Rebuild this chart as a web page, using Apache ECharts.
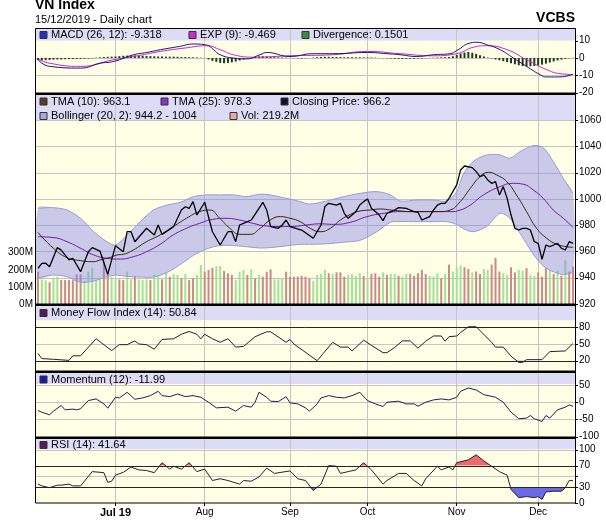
<!DOCTYPE html>
<html><head><meta charset="utf-8">
<script src="https://cdn.jsdelivr.net/npm/echarts@6/dist/echarts.min.js"></script>
<style>html,body{margin:0;padding:0;background:#fff}#c{width:606px;height:527px}</style>
</head><body><div id="c"></div>
<script>
// ---------- DATA (x = trading-day index, 0 = 3 Jun 2019 ... 138 = 13 Dec 2019) ----------
const monthTicks = [20, 43, 65, 85, 108, 129];
const monthLabels = ['Jul 19', 'Aug', 'Sep', 'Oct', 'Nov', 'Dec'];

const closePts = [[0,947.1],[1,950.9],[2,951.0],[3,948.4],[5,962.9],[6,961.0],[8,953.5],[9,954.8],[11,944.6],[13,959.8],[14,962.9],[16,960.3],[18,942.6],[20,964.4],[22,959.8],[23,975.0],[24,975.0],[25,967.4],[28,977.6],[30,972.5],[31,980.1],[32,973.0],[35,978.9],[37,991.5],[38,994.0],[39,992.8],[40,997.9],[41,987.7],[43,997.4],[45,975.0],[47,964.9],[49,975.0],[50,975.0],[51,967.4],[52,980.1],[53,981.4],[55,983.9],[57,992.8],[58,997.4],[59,991.5],[60,978.9],[62,977.6],[63,980.1],[64,983.9],[65,978.9],[68,976.3],[71,970.0],[73,980.1],[74,994.1],[75,996.6],[77,995.3],[78,996.6],[79,989.0],[80,985.2],[81,987.7],[82,990.3],[83,995.3],[84,997.9],[85,999.9],[86,992.8],[87,990.3],[88,987.7],[89,983.4],[90,989.0],[92,991.5],[93,993.3],[95,992.8],[96,991.5],[97,990.3],[98,989.8],[99,983.9],[101,986.5],[102,991.5],[103,995.3],[104,996.6],[105,996.6],[106,1000.4],[107,1005.5],[108,1010.6],[109,1022.0],[110,1025.0],[112,1023.8],[113,1020.7],[114,1016.9],[115,1018.2],[116,1014.4],[117,1011.8],[118,1013.1],[119,1003.0],[120,1009.3],[121,1000.4],[122,987.7],[123,977.6],[124,976.3],[125,977.6],[126,977.6],[127,976.3],[128,967.4],[129,966.2],[130,954.0],[131,964.9],[132,963.6],[133,964.9],[134,966.2],[135,962.4],[136,961.1],[137,967.4],[138,966.2]];

const tma10Pts = [[0,974.5],[4,962.4],[7.5,955.3],[11,953],[14.4,952.2],[16,953.5],[18.7,955.5],[20.4,957.3],[22,957.8],[24.6,961.1],[28,967.4],[31.5,972.5],[34.9,978.9],[38.3,985.2],[41.7,990.3],[44.3,991.5],[46.9,985.2],[49.5,977.6],[52.1,973],[54.7,973],[57.3,977.6],[59.9,983.9],[62.5,986.5],[65,985.2],[67.6,982.7],[70.2,977.6],[72.8,975],[75.4,977.6],[78,983.9],[80.6,988.2],[83.1,990.8],[85.7,991.5],[88.3,992.3],[90.9,991.5],[93.4,990.8],[96,990.3],[98.5,990.3],[101.1,990.3],[103.7,990.3],[106.3,991.5],[108.9,997.9],[111.5,1008],[114,1016.9],[116.2,1020.2],[118.3,1018.2],[120.9,1013.1],[123.4,1003],[126,990.3],[128.6,977.6],[131.2,970],[133.8,965.4],[136.4,963.6],[138,963.1]];

const tma25Pts = [[0,971.2],[4.1,970.5],[7.5,967.4],[11,962.4],[14.4,957.3],[17.8,954.8],[21.2,954.2],[24.6,956],[28,959.8],[31.5,965.4],[34.9,972.5],[38.3,977.6],[41.7,981.4],[45.1,984.4],[48.5,985.2],[52,983.9],[55.4,981.4],[58.8,979.4],[62.2,978.9],[65.6,979],[69,980],[72.8,981],[76.2,980.6],[80.6,982.2],[84.9,986.5],[89.2,989],[93.4,990.3],[97.7,990.3],[102,990.3],[106.3,990.3],[108.9,991.5],[111.5,995.3],[114.9,1003],[119.2,1009.3],[122.6,1011.8],[125.2,1011.1],[127.7,1006.8],[130.3,1000.4],[132.9,991.5],[135.5,985.2],[138,978.3]];

const bbX = [0,4,7.5,11,14.4,17.8,20,23,26.4,29.8,33.3,36.7,40.1,43.6,47,50.4,53.8,57.2,59.9,63.3,67.6,70,74.5,78.8,83.1,87.4,90.9,93.4,97.7,102,105.4,108,109.6,112.2,115.7,119.2,121.7,124.3,127.7,130.3,132.9,135.5,138];
const bbUpperV = [992.8,993.3,991.5,985.2,975,967.4,964.9,972.5,982.7,991.5,995.3,997.4,1001.7,1003,1003,1003,1001.7,1003.5,1003,1000.9,998,996,998.4,1001.7,1004.2,1005.5,1003,998.4,999.1,999.1,998.4,1005.5,1018.2,1028.3,1033.4,1033.4,1030.9,1035.9,1040.5,1039,1028.3,1015.6,1004];
const bbLowerV = [940,942,940.8,936.5,937.5,940.8,942,941,940.5,940.5,944,950,957,962,964.5,964.5,963.6,962.6,962.9,964,965.4,965.4,965.8,967,968.5,975,982.2,982.7,982.7,982.7,982.7,980.5,977.5,975,979,989,985.2,974,958,949,944.5,942.5,944.2];

const volume = [189,144,138,127,154,160,140,140,140,140,173,173,134,189,208,140,154,247,179,160,154,144,140,189,144,164,144,140,144,140,170,164,144,179,160,175,170,150,175,140,150,170,228,189,199,212,222,222,193,179,170,140,189,199,170,203,150,170,160,189,203,144,144,150,189,160,160,160,165,160,150,135,170,175,200,180,175,185,185,160,170,175,165,180,165,155,175,180,160,185,170,175,175,165,160,175,175,165,180,200,175,165,160,180,150,175,230,190,215,225,215,205,185,190,175,205,200,230,270,190,180,170,215,185,200,195,210,170,165,185,160,210,200,175,195,165,255,190,219.2];
const volDir = 'rggrggrrrr' + 'rrgggggrrg' + 'grrggrgggr' + 'ggrgrggrgr' + 'rggrrrggrr' + 'rgggrgrgrr' + 'rgggrrrr' + 'rrrggggrgr' + 'rrggggrgrr' + 'rgrggrggrr' + 'rrrgggrgrg' + 'ggrrgrrggr' + 'rrggrrggrg' + 'grrrgrgrgr' + 'r';

const macdPts = [[0,-1],[3,-4.8],[11,-5.8],[16,-3],[19.5,-2],[24.7,1.9],[28,3.2],[31.6,4.8],[36.5,6.7],[40.2,8.1],[43.5,7.5],[45.3,4.8],[47,1.9],[50.4,0],[53.8,-0.5],[57.3,1.9],[59,3.2],[65,0.9],[71,2.5],[76,2.5],[85,3.2],[90,2.5],[93.4,1.9],[97.7,0.9],[102,1.9],[106.3,2.5],[108,4.3],[111.5,8.7],[113.2,9.1],[115.7,7.7],[119.2,4.8],[122.6,0],[126,-4.8],[129.5,-9.6],[131.2,-10.9],[134.6,-10.9],[138,-9.3]];
const expPts = [[0,-0.5],[3,-3],[11,-4.8],[19.5,-1],[24.7,0.9],[31.6,3.8],[38,5.8],[43.5,7.1],[47,4.8],[50.4,1.9],[55.5,0.5],[65,1.3],[76,1.9],[85,3.8],[93.4,2.5],[102,1.3],[108,2.5],[112.4,6.3],[115.7,7.1],[121,4.8],[126,-1],[131.2,-6.7],[134.6,-9],[138,-9.5]];
const divergence = [-1.2,-1.4,-1.3,-1.1,-0.9,-0.8,-0.8,-0.7,-0.6,-0.6,-0.5,-0.5,-0.4,-0.3,-0.2,0.2,0.4,0.6,0.7,0.8,0.9,1.1,1.3,1.4,1.5,1.5,1.4,1.3,1.2,1.1,1.0,0.9,0.9,0.8,0.8,0.8,0.7,0.6,0.6,0.5,0.4,0.3,0.2,0.1,-0.8,-1.6,-2.2,-2.8,-3.0,-2.8,-2.5,-2.0,-1.4,-0.8,-0.3,0.2,0.6,0.9,1.0,0.9,0.7,0.5,0.4,0.3,0.2,0.1,-0.1,-0.2,-0.3,-0.2,0,0.3,0.5,0.6,0.7,0.7,0.6,0.6,0.5,0.5,0.5,0.5,0.4,0.4,0.4,0.3,0.3,0.2,0.1,-0.1,-0.2,-0.3,-0.4,-0.5,-0.5,-0.5,-0.4,-0.4,-0.3,-0.2,-0.1,0.1,0.2,0.3,0.4,0.5,0.6,1.0,1.8,2.6,3.2,3.5,3.0,2.4,1.6,0.9,0.3,-0.2,-0.8,-1.3,-1.8,-2.4,-3.0,-3.6,-4.2,-4.6,-4.8,-4.8,-4.6,-4.2,-3.8,-3.2,-2.6,-2.0,-1.4,-0.9,-0.5,-0.2,0.15];

const mfiPts = [[0,33.1],[1,23.8],[4,22.5],[8,20.6],[9,28.8],[11,28.8],[15,59.4],[19,38.1],[21,48.8],[23,48.8],[25,55.6],[26,50],[28,48.8],[30,40.6],[32,58.1],[35,59.4],[37,67.5],[39,72.5],[41,67.5],[42,59.4],[43,67.5],[45,59.4],[47,53.1],[49,59.4],[51,44.4],[53,45.6],[56,63.1],[59,71.9],[60,71.9],[64,53.1],[65,58.1],[66,50],[72,20],[76,53.1],[78,44.4],[80,44.4],[81,37.5],[84,56.9],[86,47.5],[89,34.4],[90,34.4],[92,43.8],[94,55.6],[96,55.6],[98,42.5],[100,55],[102,64.4],[104,64.4],[105,55],[106,63.1],[108,64.4],[109,70.6],[111,81],[113,81],[117,53.1],[118,44.4],[120,44.4],[122,28.1],[124,17],[125,17],[126,21.9],[130,21.9],[132,36.3],[136,37.5],[138,50.84]];

const momPts = [[0,-24],[1,-29],[3,-36.5],[4,-26],[6,-9.6],[7,-22],[9,-20],[10,-22],[11,-19],[13,4.8],[15,9.6],[17,-4.8],[18,-17.3],[20,14.4],[21,12.5],[23,28.8],[25,8.7],[27,12.5],[29,19.2],[31,31.7],[32,19.2],[34,16.3],[36,24],[38,16.3],[40,19.2],[42,14.4],[44,0],[46,-16.3],[49,-14.4],[51,-26],[53,-9.6],[55,-14.4],[56,0],[57,28.8],[59,14.4],[60,2.9],[62,1.9],[64,16.3],[65,-1.9],[67,-4.8],[69,-16.3],[70,-26],[72,-4.8],[73,12.5],[75,19.2],[77,14.4],[79,12.5],[81,19.2],[83,28.8],[85,4.8],[87,-4.8],[89,-12.5],[90,0],[93,2.9],[95,-4.8],[97,-4.8],[98,-11.5],[100,0],[102,6.7],[104,9.6],[106,6.7],[108,14.4],[109,31.7],[111,41.3],[113,35.6],[115,22],[118,14.4],[120,0],[122,-28.8],[124,-48],[126,-46],[127,-38.5],[128,-48],[130,-55.8],[131,-38.5],[132,-46],[134,-22],[136,-14.4],[137,-7.7],[138,-11.99]];

const rsiPts = [[0,35.3],[1,32],[3,28.7],[5,33.3],[6,33.3],[8,35.3],[9,32],[11,32],[14,58.7],[17,56.7],[18,38.7],[19,40.7],[20,52],[22,57.3],[24,67.3],[26,62],[28,60.7],[30,56.7],[32,75.3],[34,63.3],[35,68.7],[37,63.3],[39,75.3],[41,58.7],[43,63.3],[45,42],[47,45.3],[49,42],[52,35.3],[53,42],[55,40.7],[57,48.7],[59,65.3],[61,55.3],[65,60],[67,45.3],[69,42],[71,23.3],[73,35.3],[75,70],[77,68.7],[78,55.3],[80,58.7],[82,62],[84,75.3],[86,62],[89,35.3],[90,42],[93,55.3],[95,55.3],[97,42],[99,32],[100,45.3],[103,68.7],[104,62],[106,67.3],[107,62],[108,75.3],[111,80.7],[113,90],[115,78.7],[117,68.7],[119,58.7],[121,52],[122,25.3],[124,10],[126,12],[128,10],[129,12],[130,6.7],[131,20.7],[133,22],[135,22],[136,28.7],[137,42],[138,41.64]];

// ---------- LAYOUT / STYLE ----------
const FONT = '"Liberation Sans", Arial, Helvetica, sans-serif';
const LEFT = 36, RIGHT = 31;
const CREAM = '#ffffe6', LAV = '#dcdcf6', GRID = '#c4c4c4';
const XMIN = -0.5, XMAX = 138.5;

const panels = [
  {band:[29,40.7], data:[40.7,93], min:-20.17, max:10, ticks:[-20,-10,0,10], labels:[-20,-10,0,10], hlines:[-10,0], dark:[]},
  {band:[95,120], data:[120,304], min:920, max:1060, ticks:[920,940,960,980,1000,1020,1040,1060], labels:[920,940,960,980,1000,1020,1040,1060], hlines:[940,960,980,1000,1020,1040,1060], dark:[]},
  {band:[305,320.5], data:[320.5,371], min:1.5, max:92.2, ticks:[20,50,80], labels:[20,50,80], hlines:[50], dark:[20,80]},
  {band:[372,384], data:[384,437], min:-100.9, max:52.9, ticks:[-100,-50,0,50], labels:[-100,-50,0,50], hlines:[-50,0,50], dark:[]},
  {band:[438,449.5], data:[449.5,503], min:0, max:100, ticks:[0,30,50,70,100], labels:[0,30,70,100], hlines:[50,100], dark:[30,70]}
];

const grids = [], xAxes = [], yAxes = [];
panels.forEach((p, k) => {
  const gb = grids.length;
  grids.push({left:LEFT, right:RIGHT, top:p.band[0], height:p.band[1]-p.band[0], show:true, backgroundColor:LAV, borderWidth:0});
  xAxes.push({type:'value', gridIndex:gb, min:XMIN, max:XMAX, axisLine:{show:false}, axisLabel:{show:false},
    axisTick:{show:false, customValues:monthTicks}, splitLine:{show:true, lineStyle:{color:GRID, width:1}}});
  yAxes.push({type:'value', gridIndex:gb, min:0, max:1, show:false});
  const gd = grids.length;
  p.gi = gd;
  grids.push({left:LEFT, right:RIGHT, top:p.data[0], height:p.data[1]-p.data[0], show:true, backgroundColor:CREAM, borderWidth:0});
  const last = k === panels.length - 1;
  xAxes.push({type:'value', gridIndex:gd, min:XMIN, max:XMAX, axisLine:{show:false},
    axisTick:{show:last, customValues:monthTicks, length:3, lineStyle:{color:'#000'}},
    axisLabel:{show:last, customValues:monthTicks, margin:4, fontSize:10, color:'#000', fontFamily:FONT,
      formatter: v => { const i = monthTicks.indexOf(v); return i === 0 ? '{b|' + monthLabels[0] + '}' : (monthLabels[i] || ''); },
      rich:{b:{fontWeight:'bold', fontSize:11, fontFamily:FONT, color:'#000'}}},
    splitLine:{show:true, lineStyle:{color:GRID, width:1}}});
  yAxes.push({type:'value', gridIndex:gd, position:'right', min:p.min, max:p.max,
    axisLine:{show:false}, axisTick:{show:false},
    axisLabel:{customValues:p.labels, margin:4, fontSize:10, color:'#000', fontFamily:FONT, formatter: v => String(v)},
    splitLine:{show:false}});
});
// volume axis on main panel (left)
const volAxisIndex = yAxes.length;
yAxes.push({type:'value', gridIndex:panels[1].gi, position:'left', min:0, max:1076,
  axisLine:{show:false}, axisTick:{show:false}, minorTick:{show:false},
  axisLabel:{customValues:[0,100,200,300], formatter: v => v + 'M', margin:3, fontSize:10, color:'#000', fontFamily:FONT},
  splitLine:{show:false}});

const G = panels.map(p => p.gi);

function thresholdPolys(pts, thr, above) {
  const polys = []; let cur = null;
  for (let k = 0; k < pts.length; k++) {
    const x = pts[k][0], y = pts[k][1];
    const ins = above ? y > thr : y < thr;
    if (k > 0) {
      const px = pts[k-1][0], py = pts[k-1][1];
      const pin = above ? py > thr : py < thr;
      if (pin !== ins) {
        const cx = px + (thr - py) / (y - py) * (x - px);
        if (ins) cur = [[cx, thr]]; else { cur.push([cx, thr]); polys.push(cur); cur = null; }
      }
    } else if (ins) cur = [[x, thr]];
    if (ins) cur.push([x, y]);
  }
  if (cur) { cur.push([pts[pts.length-1][0], thr]); polys.push(cur); }
  return polys;
}
function fillSeries(gi, pts, thr, above, color, dummyY) {
  return {type:'custom', xAxisIndex:gi, yAxisIndex:gi, z:3, silent:true, data:[[0, dummyY]],
    renderItem: (params, api) => ({type:'group', children: thresholdPolys(pts, thr, above).map(poly => ({
      type:'polygon', shape:{points: poly.map(q => api.coord(q))}, style:{fill:color}}))})};
}
function lineS(gi, yi, data, color, width, smooth, z) {
  return {type:'line', xAxisIndex:gi, yAxisIndex:yi, data:data, symbol:'none', smooth:smooth,
    lineStyle:{color:color, width:width}, z:z || 5, silent:true};
}
// horizontal grid lines + right-hand tick marks, placed through the panel's own scales
function gridDecor(p, z, lineVals, color, withTicks) {
  const gi = p.gi;
  return {type:'custom', xAxisIndex:gi, yAxisIndex:gi, z:z, silent:true, clip:false, data:[[0, (p.min + p.max) / 2]],
    renderItem: (params, api) => {
      const x0 = api.coord([XMIN, p.min])[0], x1 = api.coord([XMAX, p.min])[0];
      const kids = lineVals.map(v => {
        const y = Math.round(api.coord([0, v])[1]) + 0.5;
        return {type:'line', shape:{x1:x0, y1:y, x2:x1, y2:y}, style:{stroke:color, lineWidth:1}};
      });
      if (withTicks) p.ticks.forEach(v => {
        const y = Math.round(api.coord([0, v])[1]) + 0.5;
        kids.push({type:'line', shape:{x1:x1, y1:y, x2:x1 + 3, y2:y}, style:{stroke:'#000', lineWidth:1}});
      });
      return {type:'group', children:kids};
    }};
}

const bbUpper = bbX.map((x, i) => [x, bbUpperV[i]]);
const bbLower = bbX.map((x, i) => [x, bbLowerV[i]]);

const series = panels.map(p => gridDecor(p, 2.5, p.hlines, GRID, true))
  .concat(panels.filter(p => p.dark.length).map(p => gridDecor(p, 4, p.dark, '#262626', false)))
  .concat([
  // MACD panel
  {type:'bar', xAxisIndex:G[0], yAxisIndex:G[0], barWidth:2, silent:true, z:3,
    itemStyle:{color:'#1e3a1e'}, data: divergence.map((v, i) => [i, v])},
  lineS(G[0], G[0], expPts, '#cc22cc', 1, true),
  lineS(G[0], G[0], macdPts, '#14147a', 1, true),
  // main panel
  {type:'bar', xAxisIndex:G[1], yAxisIndex:volAxisIndex, barWidth:2, silent:true, z:2.7,
    data: volume.map((v, i) => ({value:[i, v], itemStyle:{color: volDir[i] === 'g' ? '#a3e09a' : '#c98a8a'}}))},
  {type:'custom', xAxisIndex:G[1], yAxisIndex:G[1], z:3, silent:true, data:[[0, 980]],
    renderItem: (params, api) => {
      const up = bbUpper.map(q => api.coord(q)), lo = bbLower.map(q => api.coord(q));
      return {type:'group', children:[
        {type:'polygon', shape:{points: up.concat(lo.slice().reverse()), smooth:0.3}, style:{fill:'rgba(128,128,236,0.42)'}},
        {type:'polyline', shape:{points: up, smooth:0.3}, style:{stroke:'#9a9ad6', lineWidth:1, fill:null}},
        {type:'polyline', shape:{points: lo, smooth:0.3}, style:{stroke:'#9a9ad6', lineWidth:1, fill:null}}
      ]};
    }},
  lineS(G[1], G[1], tma25Pts, '#7a12a6', 1, true, 5),
  lineS(G[1], G[1], tma10Pts, '#3a2214', 1, true, 6),
  lineS(G[1], G[1], closePts, '#000000', 1.3, false, 7),
  // MFI
  fillSeries(G[2], mfiPts, 80, true, '#ee6a6a', 50),
  fillSeries(G[2], mfiPts, 20, false, '#6a6ae8', 50),
  lineS(G[2], G[2], mfiPts, '#2a1a3a', 1, false),
  // Momentum
  lineS(G[3], G[3], momPts, '#1e1e5a', 1, false),
  // RSI
  fillSeries(G[4], rsiPts, 70, true, '#ee6a6a', 50),
  fillSeries(G[4], rsiPts, 30, false, '#6a6ae8', 50),
  lineS(G[4], G[4], rsiPts, '#2a1a3a', 1, false)
]);

// ---------- TEXT / DECORATION ----------
const legendItems = [
  [40, 35, '#2233bb', 'MACD (26, 12): -9.318'],
  [189, 35, '#d22ad2', 'EXP (9): -9.469'],
  [302, 35, '#3c8a3c', 'Divergence: 0.1501'],
  [40, 101.5, '#5a3a26', 'TMA (10): 963.1'],
  [161, 101.5, '#8a34c8', 'TMA (25): 978.3'],
  [281, 101.5, '#10103a', 'Closing Price: 966.2'],
  [40, 116, '#a8a8e2', 'Bollinger (20, 2): 944.2 - 1004'],
  [230, 116, '#e6aaa0', 'Vol: 219.2M'],
  [40, 313, '#5a1a5a', 'Money Flow Index (14): 50.84'],
  [40, 379.5, '#1c1ca8', 'Momentum (12): -11.99'],
  [40, 445, '#5a1a5a', 'RSI (14): 41.64']
];
const graphics = [];
legendItems.forEach(([x, y, c, t]) => {
  graphics.push({type:'rect', silent:true, z:50, shape:{x:x, y:y-3.5, width:7, height:7}, style:{fill:c, stroke:'#333', lineWidth:1}});
  graphics.push({type:'text', silent:true, z:50, x:x+11, y:y, style:{text:t, font:'11px ' + FONT, fill:'#000', align:'left', verticalAlign:'middle'}});
});
graphics.push({type:'text', silent:true, z:50, x:35, y:5, style:{text:'VN Index', font:'bold 14px ' + FONT, fill:'#000', verticalAlign:'middle'}});
graphics.push({type:'text', silent:true, z:50, x:35, y:19.5, style:{text:'15/12/2019 - Daily chart', font:'11px ' + FONT, fill:'#000', verticalAlign:'middle'}});
graphics.push({type:'text', silent:true, z:50, x:575, y:18.5, style:{text:'VCBS', font:'bold 14px ' + FONT, fill:'#000', align:'right', verticalAlign:'middle'}});
// panel outline and separators
graphics.push({type:'rect', silent:true, z:60, shape:{x:35.5, y:28.5, width:540, height:474.5}, style:{fill:null, stroke:'#000', lineWidth:1}});
[92.5, 303.5, 370.5, 436.5].forEach(y => graphics.push({type:'rect', silent:true, z:60, shape:{x:35, y:y, width:541, height:2.5}, style:{fill:'#000'}}));

const chart = echarts.init(document.getElementById('c'), null, {renderer:'canvas'});
chart.setOption({animation:false, backgroundColor:'#ffffff', textStyle:{fontFamily:FONT},
  grid:grids, xAxis:xAxes, yAxis:yAxes, series:series, graphic:graphics});
</script></body></html>
